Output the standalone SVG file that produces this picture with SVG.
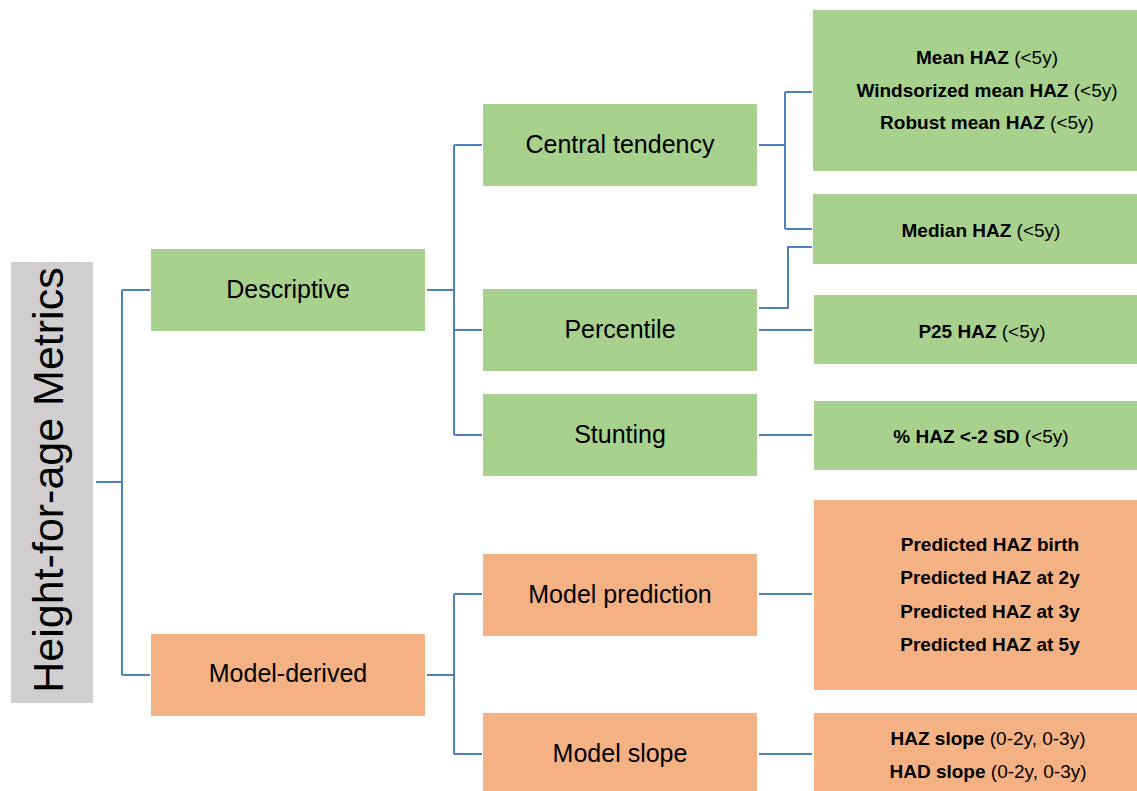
<svg xmlns="http://www.w3.org/2000/svg" width="1137" height="791" viewBox="0 0 1137 791">
<style>
.g{fill:#A9D18E}
.o{fill:#F4B183}
.t2{font-family:"Liberation Sans",Arial,sans-serif;font-size:25px;fill:#000;text-anchor:middle}
.t3{font-family:"Liberation Sans",Arial,sans-serif;font-size:19px;fill:#000;text-anchor:middle}
.b{font-weight:bold}
.c{fill:none;stroke:#4F81BD;stroke-width:2}
</style>
<rect width="1137" height="791" fill="#fff"/>
<g id="root">
<rect x="11" y="262" width="82" height="441" fill="#D0CECE"/>
<text transform="translate(63,480) rotate(-90)" font-family="'Liberation Sans',Arial,sans-serif" font-size="43" text-anchor="middle" fill="#000">Height-for-age Metrics</text>
</g>
<g id="connectors">
<path class="c" d="M96,482H122M122,290V675M122,290H150M122,675H150"/>
<path class="c" d="M427,290H454M454,145V435M454,145H482M454,330H482M454,435H482"/>
<path class="c" d="M427,675H454M454,594V754M454,594H482M454,754H482"/>
<path class="c" d="M759,145H785M785,92V229M785,92H812M785,229H812"/>
<path class="c" d="M759,308H788V247H812"/>
<path class="c" d="M759,330H812"/>
<path class="c" d="M759,435H812"/>
<path class="c" d="M759,594H812"/>
<path class="c" d="M759,754H812"/>
</g>
<g id="descriptive"><rect class="g" x="151" y="249" width="274" height="82"/><text class="t2" x="288" y="298">Descriptive</text></g>
<g id="model-derived"><rect class="o" x="151" y="634" width="274" height="82"/><text class="t2" x="288" y="682">Model-derived</text></g>
<g id="central-tendency"><rect class="g" x="483" y="104" width="274" height="82"/><text class="t2" x="620" y="153">Central tendency</text></g>
<g id="percentile"><rect class="g" x="483" y="289" width="274" height="82"/><text class="t2" x="620" y="338">Percentile</text></g>
<g id="stunting"><rect class="g" x="483" y="394" width="274" height="82"/><text class="t2" x="620" y="443">Stunting</text></g>
<g id="model-prediction"><rect class="o" x="483" y="554" width="274" height="82"/><text class="t2" x="620" y="603">Model prediction</text></g>
<g id="model-slope"><rect class="o" x="483" y="713" width="274" height="80"/><text class="t2" x="620" y="762">Model slope</text></g>
<g id="mean">
<rect class="g" x="813" y="10" width="324" height="161"/>
<text class="t3" x="987" y="64"><tspan class="b">Mean HAZ</tspan> (&lt;5y)</text>
<text class="t3" x="987" y="97"><tspan class="b">Windsorized mean HAZ</tspan> (&lt;5y)</text>
<text class="t3" x="987" y="129"><tspan class="b">Robust mean HAZ</tspan> (&lt;5y)</text>
</g>
<g id="median"><rect class="g" x="813" y="194" width="324" height="70"/><text class="t3" x="981" y="237"><tspan class="b">Median HAZ</tspan> (&lt;5y)</text></g>
<g id="p25"><rect class="g" x="814" y="295" width="323" height="69"/><text class="t3" x="982" y="338"><tspan class="b">P25 HAZ</tspan> (&lt;5y)</text></g>
<g id="haz-2sd"><rect class="g" x="814" y="401" width="323" height="69"/><text class="t3" x="981" y="443"><tspan class="b">% HAZ &lt;-2 SD</tspan> (&lt;5y)</text></g>
<g id="predicted">
<rect class="o" x="814" y="500" width="323" height="190"/>
<text class="t3 b" x="990" y="551">Predicted HAZ birth</text>
<text class="t3 b" x="990" y="584">Predicted HAZ at 2y</text>
<text class="t3 b" x="990" y="618">Predicted HAZ at 3y</text>
<text class="t3 b" x="990" y="651">Predicted HAZ at 5y</text>
</g>
<g id="slopes">
<rect class="o" x="814" y="713" width="323" height="80"/>
<text class="t3" x="988" y="745"><tspan class="b">HAZ slope</tspan> (0-2y, 0-3y)</text>
<text class="t3" x="988" y="778"><tspan class="b">HAD slope</tspan> (0-2y, 0-3y)</text>
</g>
</svg>
